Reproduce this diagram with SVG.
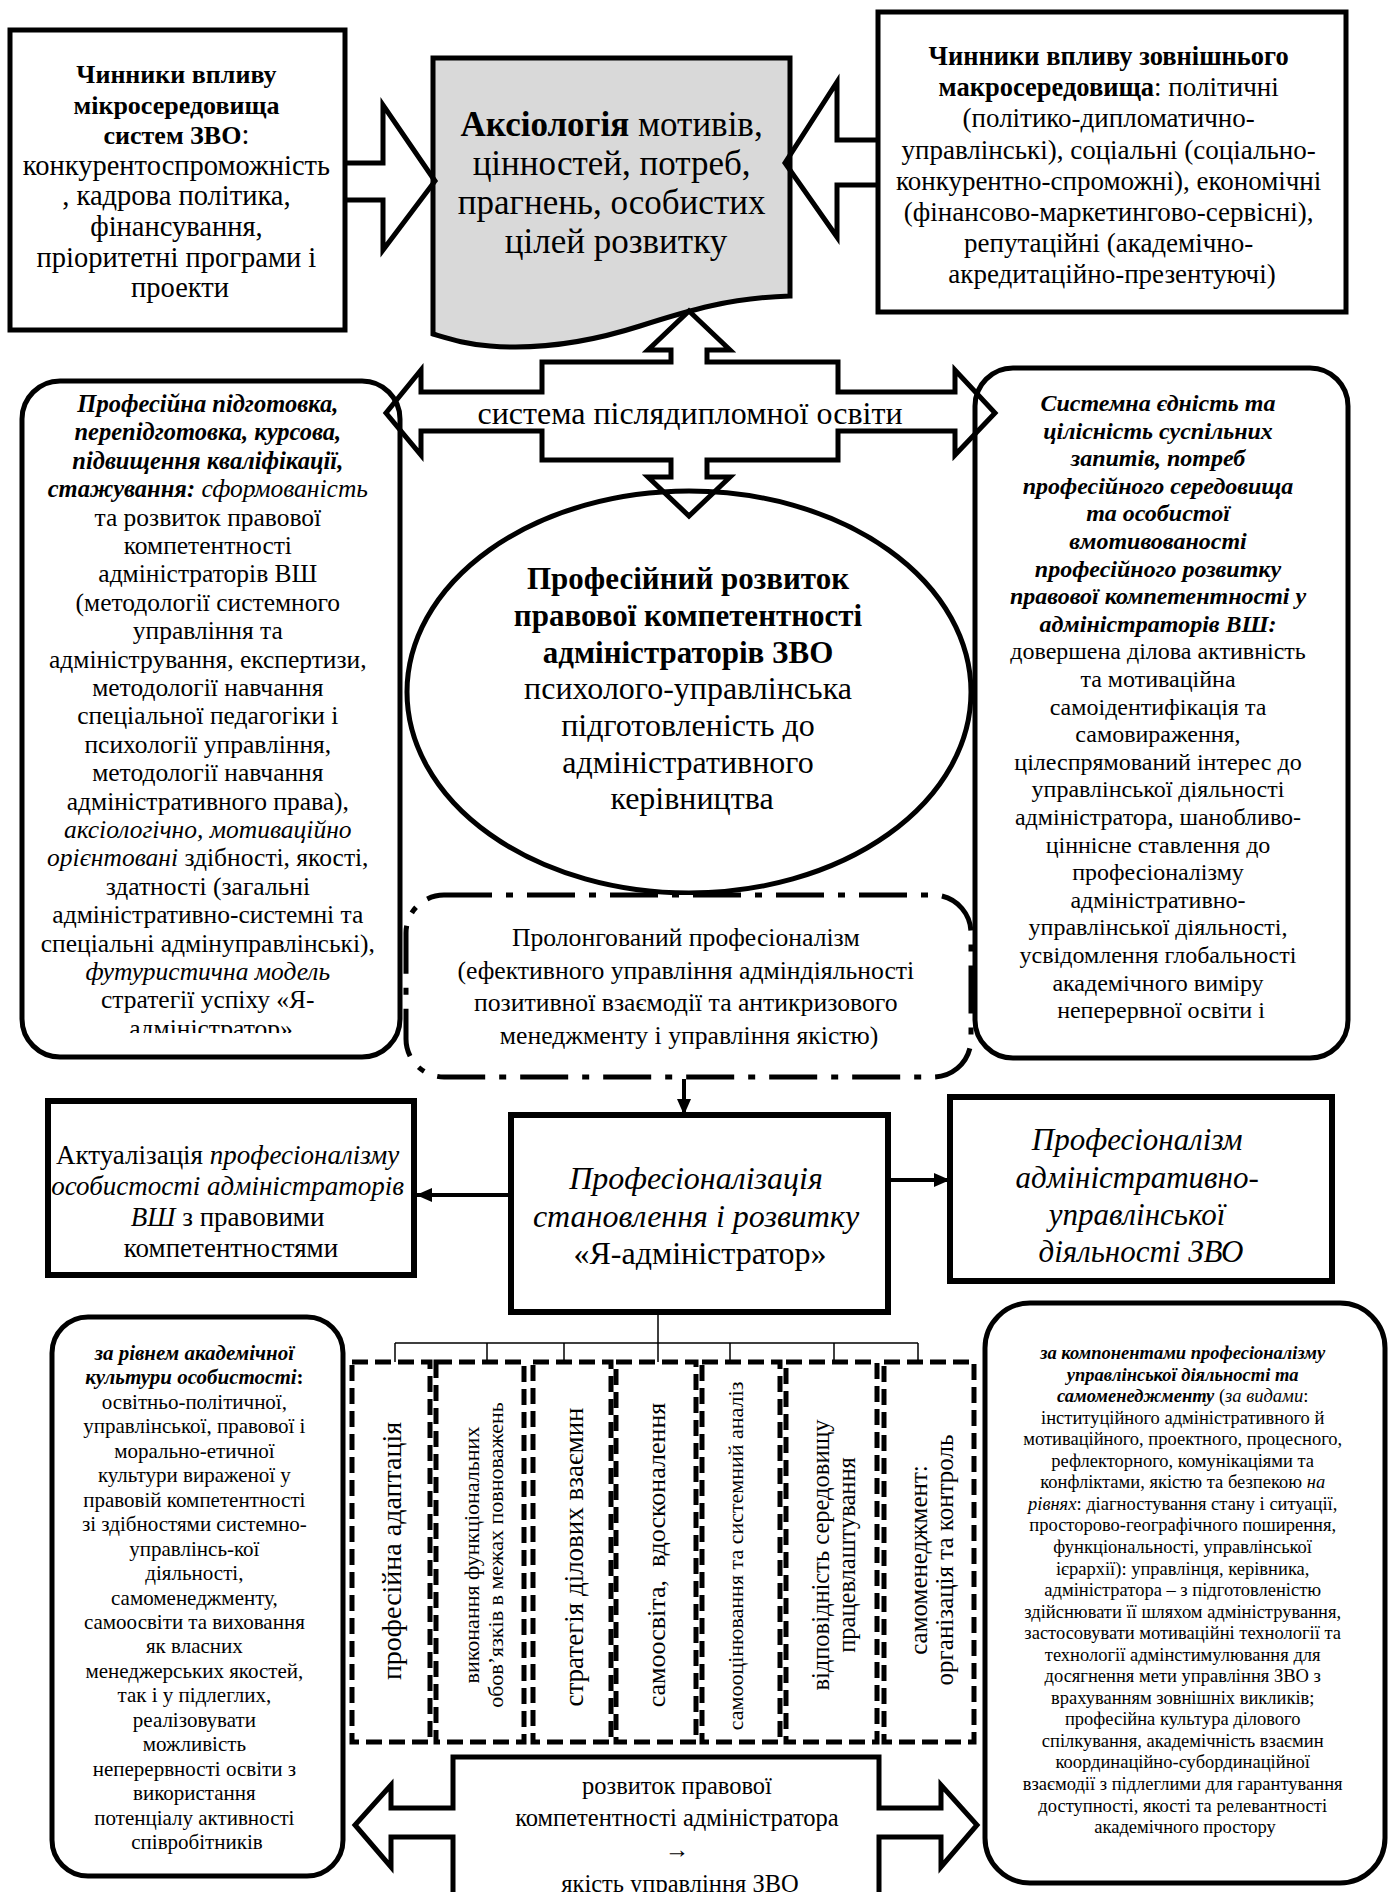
<svg xmlns="http://www.w3.org/2000/svg" width="1392" height="1892" viewBox="0 0 1392 1892">
<defs>
<style>
text { font-family: "Liberation Serif", "Times New Roman", serif; fill: #000; }
.c { text-anchor: middle; }
.b { font-weight: bold; }
.i { font-style: italic; }
.bi { font-weight: bold; font-style: italic; }
.box { fill: #fff; stroke: #000; stroke-width: 5; }
.thick { fill: #fff; stroke: #000; stroke-width: 6; }
.open { fill: none; stroke: #000; stroke-width: 5; stroke-linejoin: miter; }
.dash { fill: #fff; stroke: #000; stroke-width: 5; stroke-dasharray: 16 7; }
.dd { fill: #fff; stroke: #000; stroke-width: 5; stroke-dasharray: 48 14 7 14; }
.ln { fill: none; stroke: #000; stroke-width: 1.5; }
.arr { fill: none; stroke: #000; stroke-width: 4; }
</style>
<marker id="ah" markerUnits="userSpaceOnUse" markerWidth="16" markerHeight="14" refX="15" refY="7" orient="auto">
<path d="M0,0 L16,7 L0,14 z" fill="#000"/>
</marker>
<clipPath id="clipL"><rect x="22" y="381" width="378" height="652"/></clipPath>
</defs>

<g id="n-micro">
<rect class="box" x="10" y="30" width="335" height="300"/>
<text class="c" font-size="28.5">
<tspan x="180" y="83" class="b" font-size="26">Чинники впливу</tspan>
<tspan x="180" y="113.6" class="b" font-size="26">мікросередовища</tspan>
<tspan x="180" y="144.2"><tspan class="b" font-size="26">систем ЗВО</tspan>:</tspan>
<tspan x="180" y="174.8">конкурентоспроможність</tspan>
<tspan x="180" y="205.4">, кадрова політика,</tspan>
<tspan x="180" y="236">фінансування,</tspan>
<tspan x="180" y="266.6">пріоритетні програми і</tspan>
<tspan x="180" y="297.2">проекти</tspan>
</text>
</g>

<g id="n-axiology">
<path d="M433,58 L790,58 L790,296 C730,298 690,310 640,326 C590,342 540,350 490,346 C465,344 450,339 433,334 Z" fill="#d9d9d9" stroke="#000" stroke-width="5"/>
<text class="c" font-size="35">
<tspan x="616" y="136"><tspan class="b">Аксіологія</tspan> мотивів,</tspan>
<tspan x="616" y="175">цінностей, потреб,</tspan>
<tspan x="616" y="214">прагнень, особистих</tspan>
<tspan x="616" y="253">цілей розвитку</tspan>
</text>
</g>

<g id="n-macro">
<rect class="box" x="878" y="12" width="468" height="300"/>
<text class="c" font-size="27">
<tspan x="1112" y="65" class="b" font-size="26.5">Чинники впливу зовнішнього</tspan>
<tspan x="1112" y="96.2"><tspan class="b" font-size="26.5">макросередовища</tspan>: політичні</tspan>
<tspan x="1112" y="127.4">(політико-дипломатично-</tspan>
<tspan x="1112" y="158.6">управлінські), соціальні (соціально-</tspan>
<tspan x="1112" y="189.8">конкурентно-спроможні), економічні</tspan>
<tspan x="1112" y="221">(фінансово-маркетингово-сервісні),</tspan>
<tspan x="1112" y="252.2">репутаційні (академічно-</tspan>
<tspan x="1112" y="283.4">акредитаційно-презентуючі)</tspan>
</text>
</g>

<g id="n-training">
<rect class="box" x="22" y="381" width="378" height="676" rx="38" ry="38"/>
<text class="c" font-size="25.5" clip-path="url(#clipL)">
<tspan x="211" y="412" class="bi" font-size="24.5">Професійна підготовка,</tspan>
<tspan x="211" y="440.4" class="bi" font-size="24.5">перепідготовка, курсова,</tspan>
<tspan x="211" y="468.8" class="bi" font-size="24.5">підвищення кваліфікації,</tspan>
<tspan x="211" y="497.2"><tspan class="bi" font-size="24.5">стажування:</tspan><tspan class="i"> сформованість</tspan></tspan>
<tspan x="211" y="525.6">та розвиток правової</tspan>
<tspan x="211" y="554">компетентності</tspan>
<tspan x="211" y="582.4">адміністраторів ВШ</tspan>
<tspan x="211" y="610.8">(методології системного</tspan>
<tspan x="211" y="639.2">управління та</tspan>
<tspan x="211" y="667.6">адміністрування, експертизи,</tspan>
<tspan x="211" y="696">методології навчання</tspan>
<tspan x="211" y="724.4">спеціальної педагогіки і</tspan>
<tspan x="211" y="752.8">психології управління,</tspan>
<tspan x="211" y="781.2">методології навчання</tspan>
<tspan x="211" y="809.6">адміністративного права),</tspan>
<tspan x="211" y="838" class="i">аксіологічно, мотиваційно</tspan>
<tspan x="211" y="866.4"><tspan class="i">орієнтовані</tspan> здібності, якості,</tspan>
<tspan x="211" y="894.8">здатності (загальні</tspan>
<tspan x="211" y="923.2">адміністративно-системні та</tspan>
<tspan x="211" y="951.6">спеціальні адмінуправлінські),</tspan>
<tspan x="211" y="980" class="i">футуристична модель</tspan>
<tspan x="211" y="1008.4">стратегії успіху «Я-</tspan>
<tspan x="211" y="1036.8">адміністратор»</tspan>
</text>
</g>

<g id="n-unity">
<rect class="box" x="975" y="368" width="373" height="690" rx="38" ry="38"/>
<text class="c" font-size="24">
<tspan x="1161" y="411" class="bi">Системна єдність та</tspan>
<tspan x="1161" y="438.6" class="bi">цілісність суспільних</tspan>
<tspan x="1161" y="466.2" class="bi">запитів, потреб</tspan>
<tspan x="1161" y="493.8" class="bi">професійного середовища</tspan>
<tspan x="1161" y="521.4" class="bi">та особистої</tspan>
<tspan x="1161" y="549" class="bi">вмотивованості</tspan>
<tspan x="1161" y="576.6" class="bi">професійного розвитку</tspan>
<tspan x="1161" y="604.2" class="bi">правової компетентності у</tspan>
<tspan x="1161" y="631.8" class="bi">адміністраторів ВШ:</tspan>
<tspan x="1161" y="659.4">довершена ділова активність</tspan>
<tspan x="1161" y="687">та мотиваційна</tspan>
<tspan x="1161" y="714.6">самоідентифікація та</tspan>
<tspan x="1161" y="742.2">самовираження,</tspan>
<tspan x="1161" y="769.8">цілеспрямований інтерес до</tspan>
<tspan x="1161" y="797.4">управлінської діяльності</tspan>
<tspan x="1161" y="825">адміністратора, шанобливо-</tspan>
<tspan x="1161" y="852.6">ціннісне ставлення до</tspan>
<tspan x="1161" y="880.2">професіоналізму</tspan>
<tspan x="1161" y="907.8">адміністративно-</tspan>
<tspan x="1161" y="935.4">управлінської діяльності,</tspan>
<tspan x="1161" y="963">усвідомлення глобальності</tspan>
<tspan x="1161" y="990.6">академічного виміру</tspan>
<tspan x="1161" y="1018.2">неперервної освіти і</tspan>
</text>
</g>

<g id="n-development">
<ellipse class="box" cx="689" cy="692" rx="282" ry="201"/>
<text class="c" font-size="32">
<tspan x="692" y="589" class="b" font-size="31">Професійний розвиток</tspan>
<tspan x="692" y="626" class="b" font-size="31">правової компетентності</tspan>
<tspan x="692" y="663" class="b" font-size="31">адміністраторів ЗВО</tspan>
<tspan x="692" y="699">психолого-управлінська</tspan>
<tspan x="692" y="736">підготовленість до</tspan>
<tspan x="692" y="773">адміністративного</tspan>
<tspan x="692" y="809">керівництва</tspan>
</text>
</g>

<g id="n-prolonged">
<rect class="dd" x="406" y="895" width="565" height="182" rx="38" ry="38"/>
<text class="c" font-size="25.7">
<tspan x="689" y="946">Пролонгований професіоналізм</tspan>
<tspan x="689" y="978.5">(ефективного управління адміндіяльності</tspan>
<tspan x="689" y="1011">позитивної взаємодії та антикризового</tspan>
<tspan x="689" y="1043.5">менеджменту і управління якістю)</tspan>
</text>
</g>

<g id="n-actualization">
<rect class="thick" x="48" y="1101" width="366" height="174"/>
<text class="c" font-size="27">
<tspan x="231" y="1164">Актуалізація <tspan class="i">професіоналізму</tspan></tspan>
<tspan x="231" y="1195" class="i">особистості адміністраторів</tspan>
<tspan x="231" y="1226"><tspan class="i">ВШ</tspan> з правовими</tspan>
<tspan x="231" y="1257">компетентностями</tspan>
</text>
</g>

<g id="n-professionalization">
<rect class="thick" x="511" y="1115" width="377" height="197"/>
<text class="c" font-size="32">
<tspan x="700" y="1189" class="i">Професіоналізація</tspan>
<tspan x="700" y="1227" class="i">становлення і розвитку</tspan>
<tspan x="700" y="1264">«Я-адміністратор»</tspan>
</text>
</g>

<g id="n-professionalism">
<rect class="thick" x="950" y="1097" width="382" height="184"/>
<text class="c i" font-size="31">
<tspan x="1141" y="1150">Професіоналізм</tspan>
<tspan x="1141" y="1188">адміністративно-</tspan>
<tspan x="1141" y="1225">управлінської</tspan>
<tspan x="1141" y="1262">діяльності ЗВО</tspan>
</text>
</g>

<g id="n-d1">
<rect class="dash" x="352" y="1362" width="78" height="380"/>
<text class="c" font-size="28" transform="translate(401,1551) rotate(-90)" x="0" y="0">професійна адаптація</text>
</g>
<g id="n-d2">
<rect class="dash" x="436" y="1362" width="88" height="380"/>
<text class="c" font-size="22" transform="translate(479,1555) rotate(-90)" x="0" y="0">виконання функціональних</text>
<text class="c" font-size="22" transform="translate(503,1555) rotate(-90)" x="0" y="0">обовʼязків в межах повноважень</text>
</g>
<g id="n-d3">
<rect class="dash" x="533" y="1362" width="78" height="380"/>
<text class="c" font-size="27" transform="translate(583,1557) rotate(-90)" x="0" y="0">стратегія ділових взаємин</text>
</g>
<g id="n-d4">
<rect class="dash" x="616" y="1362" width="80" height="380"/>
<text class="c" font-size="26" xml:space="preserve" transform="translate(665,1555) rotate(-90)" x="0" y="0">самоосвіта,  вдосконалення</text>
</g>
<g id="n-d5">
<rect class="dash" x="702" y="1362" width="78" height="380"/>
<text class="c" font-size="22" transform="translate(743,1556) rotate(-90)" x="0" y="0">самооцінювання та системний аналіз</text>
</g>
<g id="n-d6">
<rect class="dash" x="786" y="1362" width="91" height="380"/>
<text class="c" font-size="24.5" transform="translate(829,1555) rotate(-90)" x="0" y="0">відповідність середовищу</text>
<text class="c" font-size="24.5" transform="translate(855,1555) rotate(-90)" x="0" y="0">працевлаштування</text>
</g>
<g id="n-d7">
<rect class="dash" x="884" y="1362" width="90" height="380"/>
<text class="c" font-size="25" transform="translate(927,1560) rotate(-90)" x="0" y="0">самоменеджмент:</text>
<text class="c" font-size="25" transform="translate(953,1560) rotate(-90)" x="0" y="0">організація та контроль</text>
</g>

<g id="n-academic">
<rect class="box" x="52" y="1317" width="291" height="559" rx="36" ry="36"/>
<text class="c" font-size="21">
<tspan x="197" y="1360" class="bi">за рівнем академічної</tspan>
<tspan x="197" y="1384.45"><tspan class="bi">культури особистості</tspan><tspan class="b">:</tspan></tspan>
<tspan x="197" y="1408.9">освітньо-політичної,</tspan>
<tspan x="197" y="1433.35">управлінської, правової і</tspan>
<tspan x="197" y="1457.8">морально-етичної</tspan>
<tspan x="197" y="1482.25">культури вираженої у</tspan>
<tspan x="197" y="1506.7">правовій компетентності</tspan>
<tspan x="197" y="1531.15">зі здібностями системно-</tspan>
<tspan x="197" y="1555.6">управлінсь-кої</tspan>
<tspan x="197" y="1580.05">діяльності,</tspan>
<tspan x="197" y="1604.5">самоменеджменту,</tspan>
<tspan x="197" y="1628.95">самоосвіти та виховання</tspan>
<tspan x="197" y="1653.4">як власних</tspan>
<tspan x="197" y="1677.85">менеджерських якостей,</tspan>
<tspan x="197" y="1702.3">так і у підлеглих,</tspan>
<tspan x="197" y="1726.75">реалізовувати</tspan>
<tspan x="197" y="1751.2">можливість</tspan>
<tspan x="197" y="1775.65">неперервності освіти з</tspan>
<tspan x="197" y="1800.1">використання</tspan>
<tspan x="197" y="1824.55">потенціалу активності</tspan>
<tspan x="197" y="1849">співробітників</tspan>
</text>
</g>

<g id="n-components">
<rect class="box" x="985" y="1303" width="400" height="580" rx="45" ry="45"/>
<text class="c" font-size="18.5">
<tspan x="1185" y="1359" class="bi">за компонентами професіоналізму</tspan>
<tspan x="1185" y="1380.55" class="bi">управлінської діяльності та</tspan>
<tspan x="1185" y="1402.1"><tspan class="bi">самоменеджменту</tspan> (<tspan class="i">за видами</tspan>:</tspan>
<tspan x="1185" y="1423.65">інституційного адміністративного й</tspan>
<tspan x="1185" y="1445.2">мотиваційного, проектного, процесного,</tspan>
<tspan x="1185" y="1466.75">рефлекторного, комунікаціями та</tspan>
<tspan x="1185" y="1488.3">конфліктами, якістю та безпекою <tspan class="i">на</tspan></tspan>
<tspan x="1185" y="1509.85"><tspan class="i">рівнях</tspan>: діагностування стану і ситуації,</tspan>
<tspan x="1185" y="1531.4">просторово-географічного поширення,</tspan>
<tspan x="1185" y="1552.95">функціональності, управлінської</tspan>
<tspan x="1185" y="1574.5">ієрархії): управлінця, керівника,</tspan>
<tspan x="1185" y="1596.05">адміністратора – з підготовленістю</tspan>
<tspan x="1185" y="1617.6">здійснювати її шляхом адміністрування,</tspan>
<tspan x="1185" y="1639.15">застосовувати мотиваційні технології та</tspan>
<tspan x="1185" y="1660.7">технології адмінстимулювання для</tspan>
<tspan x="1185" y="1682.25">досягнення мети управління ЗВО з</tspan>
<tspan x="1185" y="1703.8">врахуванням зовнішніх викликів;</tspan>
<tspan x="1185" y="1725.35">професійна культура ділового</tspan>
<tspan x="1185" y="1746.9">спілкування, академічність взаємин</tspan>
<tspan x="1185" y="1768.45">координаційно-субординаційної</tspan>
<tspan x="1185" y="1790">взаємодії з підлеглими для гарантування</tspan>
<tspan x="1185" y="1811.55">доступності, якості та релевантності</tspan>
<tspan x="1185" y="1833.1">академічного простору</tspan>
</text>
</g>

<g id="n-quality">
<polygon class="box" points="453,1757 879,1757 879,1808 941,1808 941,1785 977,1825 941,1867 941,1837 879,1837 879,1897 453,1897 453,1837 391,1837 391,1867 355,1825 391,1785 391,1808 453,1808"/>
<text class="c" font-size="24.5">
<tspan x="680" y="1794">розвиток правової</tspan>
<tspan x="680" y="1826">компетентності адміністратора</tspan>
<tspan x="680" y="1858">→</tspan>
<tspan x="680" y="1892">якість управління ЗВО</tspan>
</text>
</g>

<g id="connectors">
<polyline class="open" points="345,163 383,163 383,105 435,181 383,250 383,200 345,200"/>
<polyline class="open" points="878,140 837,140 837,82 785,163 837,237 837,185 878,185"/>
<line class="arr" x1="684" y1="1079" x2="684" y2="1114" stroke-width="3" marker-end="url(#ah)"/>
<line class="arr" x1="511" y1="1195" x2="417" y2="1195" marker-end="url(#ah)"/>
<line class="arr" x1="888" y1="1180" x2="949" y2="1180" marker-end="url(#ah)"/>
<path class="ln" d="M658,1312 V1362 M395,1343 H918 M395,1343 V1362 M487,1343 V1362 M564,1343 V1362 M730,1343 V1362 M834,1343 V1362 M918,1343 V1362"/>
</g>

<g id="n-postgrad">
<polygon class="open" points="689,311 730,350 707,350 707,362 838,362 838,392 955,392 955,370 995,413 955,455 955,431 838,431 838,460 707,460 707,477 730,477 689,516 648,477 671,477 671,460 542,460 542,431 421,431 421,455 386,413 421,370 421,392 542,392 542,362 671,362 671,350 648,350"/>
<text class="c" font-size="32" x="690" y="424">система післядипломної освіти</text>
</g>
</svg>
